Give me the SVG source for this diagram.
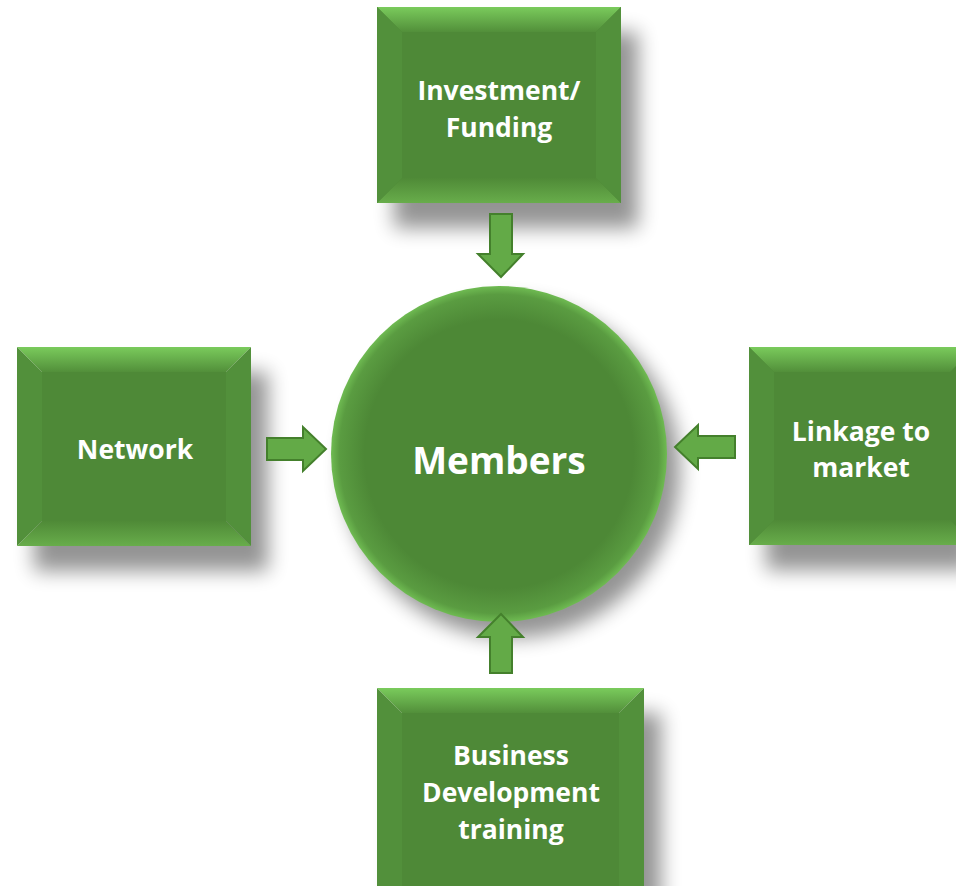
<svg xmlns="http://www.w3.org/2000/svg" width="956" height="886" viewBox="0 0 956 886">
<defs>
<filter id="sh" x="-30%" y="-30%" width="160%" height="160%"><feGaussianBlur stdDeviation="10"/></filter>
<linearGradient id="topbev" x1="0" y1="0" x2="0" y2="1"><stop offset="0" stop-color="#7acb5c"/><stop offset="1" stop-color="#528f3a"/></linearGradient>
<linearGradient id="botbev" x1="0" y1="0" x2="0" y2="1"><stop offset="0" stop-color="#4f8a37"/><stop offset="1" stop-color="#68ad4b"/></linearGradient>
<radialGradient id="circ" cx="0.5" cy="0.5" r="0.5"><stop offset="0.8" stop-color="#4d8836"/><stop offset="0.95" stop-color="#5a9c41"/><stop offset="1" stop-color="#6fbb52"/></radialGradient>
<style>
.face{fill:#4e8937}
.side{fill:#52903b}
.t{font-family:"Open Sans","Liberation Sans",sans-serif;font-weight:bold;fill:#ffffff;text-anchor:middle;dominant-baseline:central}
.arrow{fill:#63aa47;stroke:#44802c;stroke-width:2;stroke-linejoin:miter}
.shadow{fill:#000;opacity:0.42}
</style>
</defs>
<rect width="956" height="886" fill="#ffffff"/>
<g id="shadows">
<rect class="shadow" x="394" y="32" width="244" height="196" filter="url(#sh)"/>
<rect class="shadow" x="34" y="372" width="234" height="199" filter="url(#sh)"/>
<rect class="shadow" x="766" y="372" width="207" height="198" filter="url(#sh)"/>
<rect class="shadow" x="394" y="713" width="267" height="198" filter="url(#sh)"/>
<circle class="shadow" cx="512" cy="470" r="168" filter="url(#sh)"/>
</g>
<g id="node-top">
<rect class="face" x="377" y="7" width="244" height="196"/>
<polygon fill="url(#topbev)" points="377,7 621,7 596,32 402,32"/>
<polygon fill="url(#botbev)" points="377,203 621,203 596,178 402,178"/>
<polygon class="side" points="377,7 402,32 402,178 377,203"/>
<polygon class="side" points="621,7 596,32 596,178 621,203"/>
<rect class="face" x="402" y="32" width="194" height="146"/>
<text class="t" x="499" y="90" font-size="26.5">Investment/</text>
<text class="t" x="499" y="127" font-size="26.5">Funding</text>
</g>
<g id="node-left">
<polygon fill="url(#topbev)" points="17,347 251,347 226,372 42,372"/>
<polygon fill="url(#botbev)" points="17,546 251,546 226,521 42,521"/>
<polygon class="side" points="17,347 42,372 42,521 17,546"/>
<polygon class="side" points="251,347 226,372 226,521 251,546"/>
<rect class="face" x="42" y="372" width="184" height="149"/>
<text class="t" x="135" y="449" font-size="26.5">Network</text>
</g>
<g id="node-right">
<rect class="face" x="749" y="347" width="207" height="198"/>
<polygon fill="url(#topbev)" points="749,347 975,347 950,372 774,372"/>
<polygon fill="url(#botbev)" points="749,545 975,545 950,520 774,520"/>
<polygon class="side" points="749,347 774,372 774,520 749,545"/>
<rect class="face" x="774" y="372" width="182" height="148"/>
<text class="t" x="861" y="431" font-size="26.5">Linkage to</text>
<text class="t" x="861" y="467" font-size="26.5">market</text>
</g>
<g id="node-bottom">
<polygon fill="url(#topbev)" points="377,688 644,688 619,713 402,713"/>
<polygon class="side" points="377,688 402,713 402,886 377,886"/>
<polygon class="side" points="644,688 619,713 619,886 644,886"/>
<rect class="face" x="402" y="713" width="217" height="173"/>
<text class="t" x="511" y="755" font-size="26.5">Business</text>
<text class="t" x="511" y="792" font-size="26.5">Development</text>
<text class="t" x="511" y="829" font-size="26.5">training</text>
</g>
<g id="node-center">
<circle cx="499" cy="454" r="168" fill="url(#circ)"/>
<text class="t" x="499" y="459" font-size="37">Members</text>
</g>
<g id="connectors">
<polygon class="arrow" points="490,214 512,214 512,254 523,254 501,277 478,254 490,254"/>
<polygon class="arrow" points="267,438 303,438 303,427 326,449 303,471 303,460 267,460"/>
<polygon class="arrow" points="735,436 698,436 698,425 675,447 698,469 698,458 735,458"/>
<polygon class="arrow" points="490,673 512,673 512,637 523,637 501,614 478,637 490,637"/>
</g>
</svg>
